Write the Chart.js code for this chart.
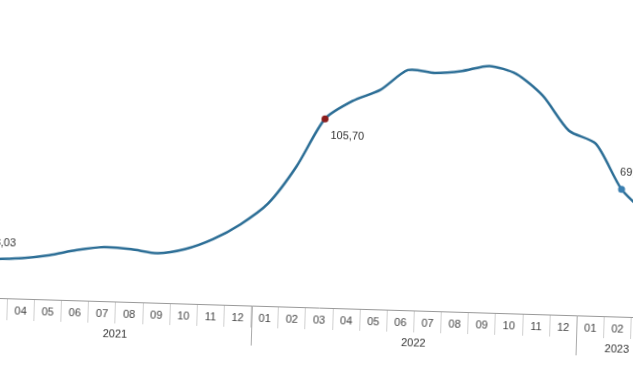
<!DOCTYPE html>
<html>
<head>
<meta charset="utf-8">
<script src="https://cdn.jsdelivr.net/npm/chart.js@4/dist/chart.umd.min.js"></script>
<style>
html, body { margin: 0; padding: 0; background: #fff; overflow: hidden; }
body { width: 633px; height: 375px; position: relative; }
#kutu {
    position: absolute;
    left: -21px;
    top: 0;
    width: 681px;
    height: 375px;
    transform-origin: 21px 298px;
    transform: rotate(1.72deg);
}
</style>
</head>
<body>
<div id="kutu"><canvas id="grafik"></canvas></div>
<script>
// ======================================
// Yıllık değişim (%) - aylar
// ======================================

const aylar = [
"03","04","05","06","07","08","09","10","11","12",
"01","02","03","04","05","06","07","08","09","10","11","12",
"01","02","03"
];

const yillar = [
"2021","2021","2021","2021","2021","2021","2021","2021","2021","2021",
"2022","2022","2022","2022","2022","2022","2022","2022","2022","2022","2022","2022",
"2023","2023","2023"
];

const degerler = [
18.03, 19.1, 21.3, 24.7, 26.9, 26.2, 24.3, 27.2, 33.4, 42.6,
55.3, 77.3, 105.70, 116.6, 123.5, 135.6, 134.4, 136.0, 139.4, 135.2, 122.9, 103.0,
95.9, 69.70, 55.0
];

// etiketli noktalar
const etiketliNoktalar = [0, 12, 23];
const isaretliNoktalar = [12, 23];


// yıl etiketleri ve yıl ayırıcı çizgiler
const yilEklentisi = {
    id: "yilEklentisi",
    afterDraw(chart) {
        const ctx = chart.ctx;
        const x = chart.scales.x;
        const ustY = x.top;

        ctx.save();
        ctx.font = "11px 'Liberation Sans', Arial, sans-serif";
        ctx.fillStyle = "#333";
        ctx.textAlign = "center";
        ctx.textBaseline = "middle";

        let bas = 0;
        for (let i = 1; i <= yillar.length; i++) {
            if (i === yillar.length || yillar[i] !== yillar[bas]) {
                const orta = (x.getPixelForValue(bas) + x.getPixelForValue(i - 1)) / 2;
                ctx.fillText(yillar[bas], orta, ustY + 33);

                if (i < yillar.length) {
                    const sinir = (x.getPixelForValue(i - 1) + x.getPixelForValue(i)) / 2;
                    ctx.strokeStyle = "#aaa";
                    ctx.lineWidth = 1;
                    ctx.beginPath();
                    ctx.moveTo(Math.round(sinir) + 0.5, ustY);
                    ctx.lineTo(Math.round(sinir) + 0.5, ustY + 40);
                    ctx.stroke();
                }
                bas = i;
            }
        }

        // veri etiketleri
        const meta = chart.getDatasetMeta(0);
        const kaydir = { 0: [-7, -16], 12: [6, 17], 23: [-2, -17] };
        ctx.textAlign = "left";
        ctx.fillStyle = "#333";
        etiketliNoktalar.forEach(function (i) {
            const p = meta.data[i];
            const metin = degerler[i].toFixed(2).replace(".", ",");
            ctx.fillText(metin, p.x + kaydir[i][0], p.y + kaydir[i][1]);
        });

        ctx.restore();
    }
};


const grafik = document.getElementById("grafik");

new Chart(grafik, {

type: "line",

data: {
    labels: aylar,
    datasets: [{
        label: "Yıllık değişim",
        data: degerler,
        borderColor: "#2c6e96",
        borderWidth: 2.5,
        tension: 0.25,
        fill: false,
        pointRadius: (c) => isaretliNoktalar.includes(c.dataIndex) ? 3.5 : 0,
        pointHoverRadius: 0,
        pointBorderWidth: 0,
        pointBackgroundColor: (c) => c.dataIndex === 12 ? "#8b1c1c" : "#3a7fb0",
        pointBorderColor: (c) => c.dataIndex === 12 ? "#8b1c1c" : "#3a7fb0"
    }]
},

options: {
    responsive: true,
    maintainAspectRatio: false,
    animation: false,
    layout: { padding: 0 },
    plugins: {
        legend: { display: false },
        tooltip: { enabled: false }
    },
    scales: {
        x: {
            offset: true,
            grid: {
                offset: true,
                drawOnChartArea: false,
                drawTicks: true,
                tickLength: 22,
                color: "#d0d0d0",
                lineWidth: 1
            },
            border: { display: true, color: "#999", width: 1 },
            ticks: {
                autoSkip: false,
                maxRotation: 0,
                padding: -15.6,
                color: "#444",
                font: { family: "'Liberation Sans', Arial, sans-serif", size: 11 }
            },
            afterFit: (s) => { s.height = 77; }
        },
        y: {
            display: false,
            min: -4.6,
            max: 168.7
        }
    }
}

,plugins: [yilEklentisi]

});
</script>
</body>
</html>
